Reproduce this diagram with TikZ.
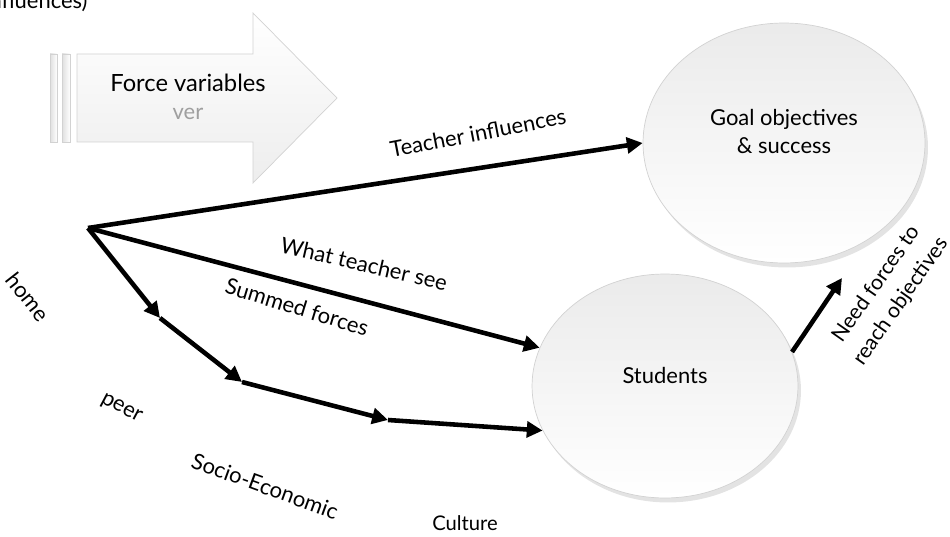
\documentclass[tikz,border=0pt]{standalone}
\usepackage{fontspec}
\setmainfont{Lato}
\usetikzlibrary{arrows.meta,shapes.geometric,shadows}

\tikzset{
  force/.style={line width=2.6pt,-{Triangle[length=9pt,width=9pt]}},
  bubble/.style={ellipse,draw=gray!35,top color=gray!16,bottom color=white,
    drop shadow={opacity=0.22,shadow xshift=0.6mm,shadow yshift=-0.9mm},
    align=center,inner sep=0pt,font=\fontsize{12.5}{15}\selectfont},
  lbl/.style={font=\fontsize{12.5}{15}\selectfont},
}

\begin{document}
\begin{tikzpicture}[x=0.02cm,y=-0.02cm,lbl]
\useasboundingbox (0,0) rectangle (950,537);

% big arrow with its two stripes
\shade[top color=white,bottom color=gray!14,draw=gray!35]
  (77,54) -- (253,54) -- (253,13) -- (337,98) -- (253,183) -- (253,142) -- (77,142) -- cycle;
\shade[left color=gray!25,right color=white,draw=gray!35] (50,54) rectangle (57,142);
\shade[left color=gray!25,right color=white,draw=gray!35] (62,54) rectangle (70,142);
\node[font=\fontsize{13.5}{16}\selectfont] (fv) at (188,83) {Force variables};
\node[text=gray!75] (ver) at (188,114) {ver};
\node[anchor=base west,inner sep=0pt] (infl) at (-16,9) {influences)};

% bubbles
\node[bubble,minimum width=5.64cm,minimum height=4.8cm] (goal) at (784,143)
  {Goal objectives\\[1pt]\& success\\[-2pt]};
\node[bubble,minimum width=5.32cm,minimum height=4.48cm] (stud) at (665,386)
  {Students\\[-0.12cm]};

% forces
\coordinate (o) at (88,228);
\coordinate (j1) at (160,318);
\coordinate (j2) at (242,382);
\coordinate (j3) at (388,420);
\coordinate (nf) at (842,278);
\path[force] (o) edge (goal.west) (o) edge (stud.163);
\path[force] (o) edge (j1) (j1) edge (j2) (j2) edge (j3) (j3) edge (stud.200);
\path[force] (stud.15) edge (nf);

% labels
\node[rotate=11] (ti) at (478,133) {Teacher influences};
\node[rotate=-13] (wts) at (364,264) {What teacher see};
\node[rotate=-17] (sf) at (297,307) {Summed forces};
\node[rotate=-52] (home) at (28,297) {home};
\node[rotate=-28] (peer) at (121,409) {peer};
\node[rotate=-20] (soc) at (265,486) {Socio-Economic};
\node[font=\fontsize{11.5}{14}\selectfont] (cul) at (465,523) {Culture};
\node[rotate=55,align=center,font=\fontsize{12}{17}\selectfont] (need) at (889,293)
  {Need forces to\\reach objectives};
\end{tikzpicture}
\end{document}
